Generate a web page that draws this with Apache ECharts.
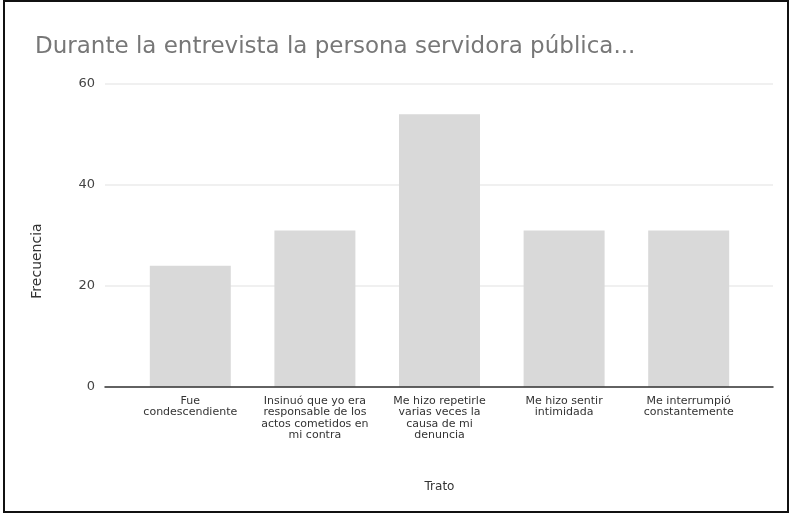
<!DOCTYPE html>
<html>
<head>
<meta charset="utf-8">
<script src="https://cdn.jsdelivr.net/npm/echarts@6/dist/echarts.min.js"></script>
<style>
  html, body { margin: 0; padding: 0; background: #fff; }
  #chart { position: absolute; left: 0; top: 0; width: 790px; height: 514px; }
  #frame { position: absolute; left: 3px; top: 0px; width: 782px; height: 509px; border: 2px solid #111; pointer-events: none; }
</style>
</head>
<body>
<div id="chart"></div>
<div id="frame"></div>
<script>
const titleText = 'Durante la entrevista la persona servidora pública...';
const categories = [
  'Fue\ncondescendiente',
  'Insinuó que yo era\nresponsable de los\nactos cometidos en\nmi contra',
  'Me hizo repetirle\nvarias veces la\ncausa de mi\ndenuncia',
  'Me hizo sentir\nintimidada',
  'Me interrumpió\nconstantemente'
];
const values = [24, 31, 54, 31, 31];
const yTicks = [0, 20, 40, 60];
const xTitle = 'Trato';
const yTitle = 'Frecuencia';

const chart = echarts.init(document.getElementById('chart'), null, { renderer: 'canvas' });
const font = '"DejaVu Sans", Verdana, sans-serif';
chart.setOption({
  animation: false,
  backgroundColor: '#fff',
  title: {
    text: titleText,
    left: 30, top: 31,
    textStyle: { fontFamily: font, fontSize: 23, fontWeight: 'normal', color: '#777' }
  },
  graphic: [{
    type: 'text',
    x: 37, y: 261,
    rotation: Math.PI / 2,
    style: { text: yTitle, font: '14px ' + font, fill: '#333', textAlign: 'center', textVerticalAlign: 'middle' }
  }],
  grid: [
    { left: 105, right: 17, top: 84, bottom: 127 },
    { left: 128, right: 39, top: 84, bottom: 127 }
  ],
  xAxis: [
    {
      gridIndex: 0, type: 'value', min: 0, max: 1, z: 5,
      axisLine: { show: true, lineStyle: { color: '#333', width: 1.5 } },
      axisTick: { show: false }, axisLabel: { show: false }, splitLine: { show: false }
    },
    {
      gridIndex: 1, type: 'category', data: categories,
      axisLine: { show: false }, axisTick: { show: false },
      axisLabel: { interval: 0, margin: 8, color: '#333', fontFamily: font, fontSize: 11, lineHeight: 11.5 },
      name: xTitle, nameLocation: 'middle', nameGap: 94,
      nameTextStyle: { color: '#333', fontFamily: font, fontSize: 12 }
    }
  ],
  yAxis: [
    {
      gridIndex: 0, type: 'value', min: yTicks[0], max: yTicks[yTicks.length - 1], interval: 20,
      axisLine: { show: false }, axisTick: { show: false },
      axisLabel: { margin: 10, color: '#444', fontFamily: font, fontSize: 13 },
      splitLine: { lineStyle: { color: '#ebebeb', width: 1.5 } }
    },
    {
      gridIndex: 1, type: 'value', min: yTicks[0], max: yTicks[yTicks.length - 1], interval: 20,
      show: false, splitLine: { show: false }
    }
  ],
  series: [{
    type: 'bar', xAxisIndex: 1, yAxisIndex: 1,
    data: values, barWidth: '65%',
    itemStyle: { color: '#d9d9d9' }
  }]
});
</script>
</body>
</html>
